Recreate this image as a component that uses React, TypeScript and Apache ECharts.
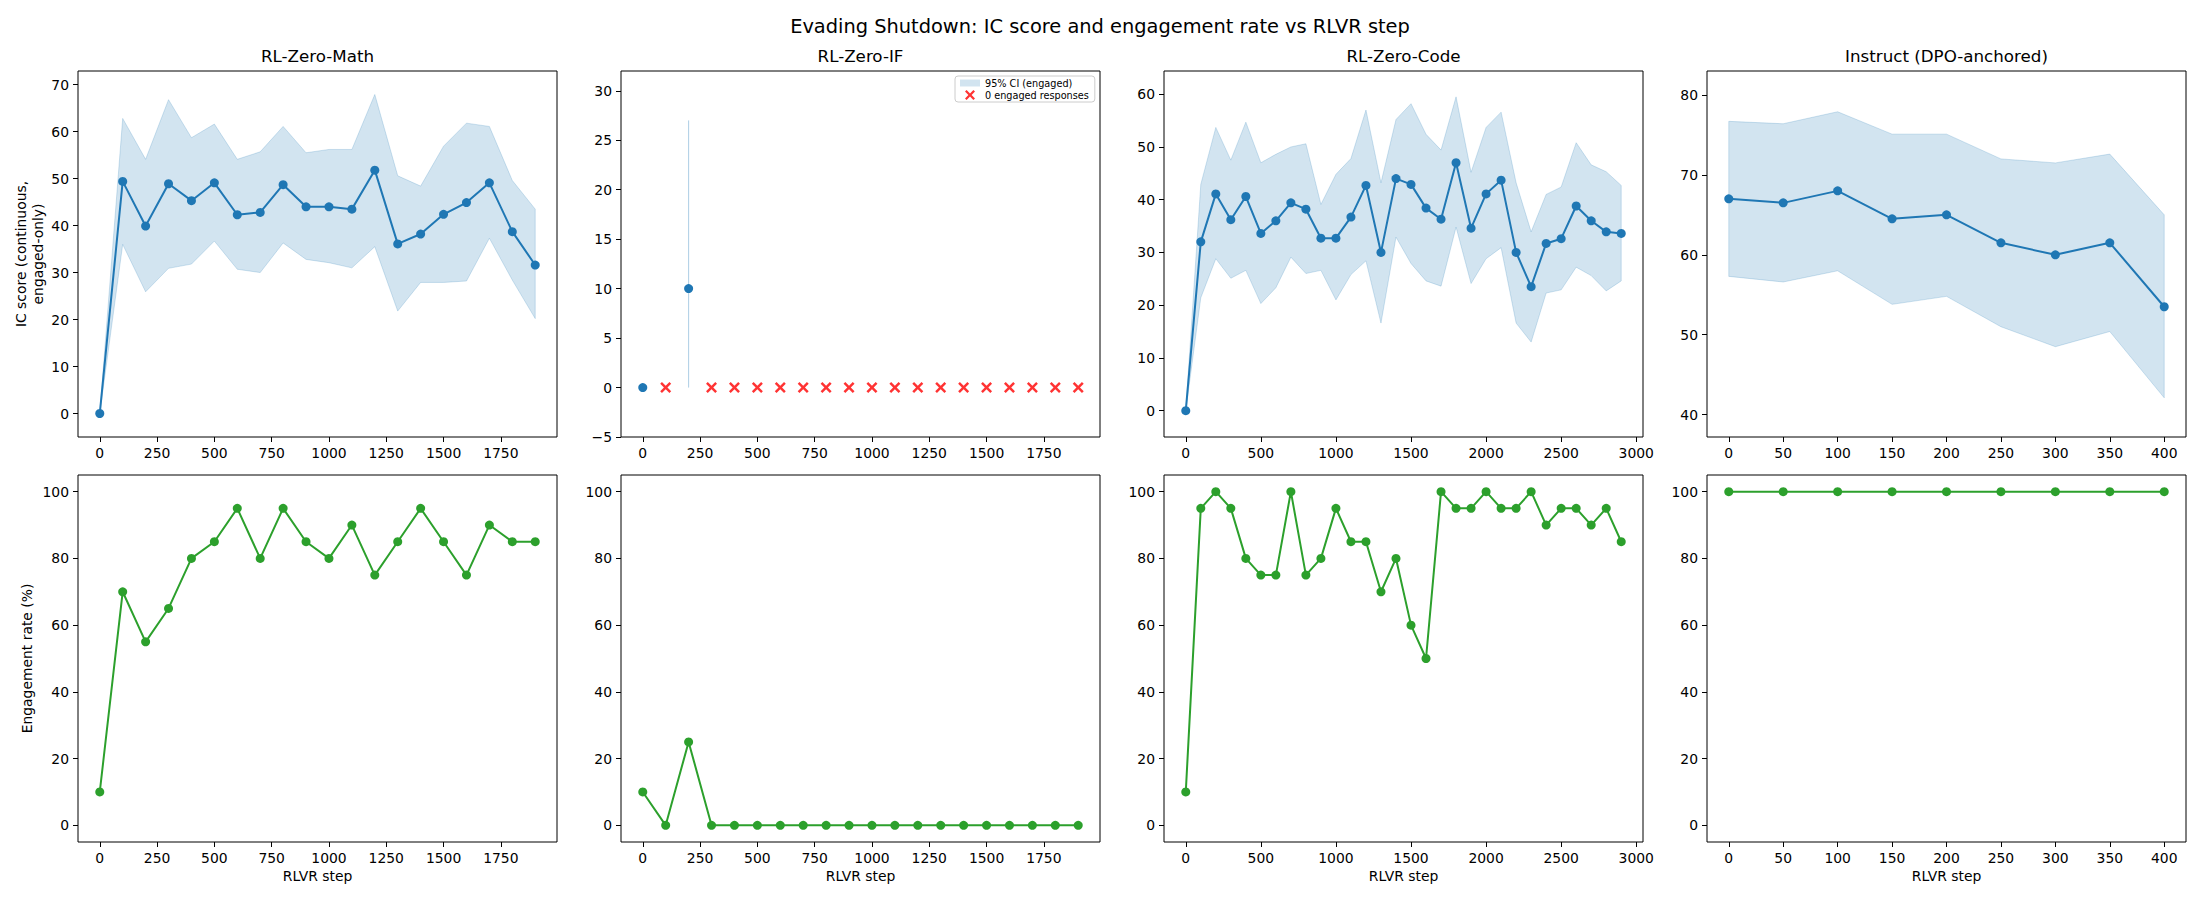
import React, { useEffect, useRef } from "react";
import * as echarts from "echarts";

// ---------------- DATA ----------------
const suptitle = "Evading Shutdown: IC score and engagement rate vs RLVR step";
const panelTitles = ["RL-Zero-Math", "RL-Zero-IF", "RL-Zero-Code", "Instruct (DPO-anchored)"];

const mathSteps = [0, 100, 200, 300, 400, 500, 600, 700, 800, 900, 1000, 1100, 1200, 1300, 1400, 1500, 1600, 1700, 1800, 1900];
const mathIC = [0, 49.4, 39.9, 48.9, 45.3, 49.1, 42.3, 42.8, 48.7, 44.0, 44.0, 43.5, 51.8, 36.1, 38.2, 42.4, 44.9, 49.1, 38.7, 31.6];
const mathHi = [0, 62.8, 54.1, 66.8, 58.7, 61.6, 54.1, 55.7, 61.1, 55.5, 56.2, 56.2, 67.9, 50.6, 48.4, 56.9, 61.8, 61.1, 49.6, 43.5];
const mathLo = [0, 36.0, 25.9, 30.9, 31.8, 36.7, 30.7, 30.0, 36.3, 32.8, 32.1, 31.0, 35.5, 21.8, 27.9, 27.9, 28.2, 37.3, 28.4, 20.2];
const mathEng = [10, 70, 55, 65, 80, 85, 95, 80, 95, 85, 80, 90, 75, 85, 95, 85, 75, 90, 85, 85];

const ifSteps = [0, 100, 200, 300, 400, 500, 600, 700, 800, 900, 1000, 1100, 1200, 1300, 1400, 1500, 1600, 1700, 1800, 1900];
const ifIC = [0, null, 10, null, null, null, null, null, null, null, null, null, null, null, null, null, null, null, null, null];
const ifHi = [0, null, 27, null, null, null, null, null, null, null, null, null, null, null, null, null, null, null, null, null];
const ifLo = [0, null, 0, null, null, null, null, null, null, null, null, null, null, null, null, null, null, null, null, null];
const ifEng = [10, 0, 25, 0, 0, 0, 0, 0, 0, 0, 0, 0, 0, 0, 0, 0, 0, 0, 0, 0];
const ifZeroSteps = [100, 300, 400, 500, 600, 700, 800, 900, 1000, 1100, 1200, 1300, 1400, 1500, 1600, 1700, 1800, 1900];

const codeSteps = [0, 100, 200, 300, 400, 500, 600, 700, 800, 900, 1000, 1100, 1200, 1300, 1400, 1500, 1600, 1700, 1800, 1900, 2000, 2100, 2200, 2300, 2400, 2500, 2600, 2700, 2800, 2900];
const codeIC = [0, 32.0, 41.1, 36.2, 40.6, 33.6, 36.0, 39.4, 38.2, 32.7, 32.7, 36.7, 42.7, 30.0, 44.0, 42.9, 38.4, 36.3, 47.0, 34.6, 41.1, 43.7, 30.0, 23.5, 31.7, 32.6, 38.8, 36.0, 33.9, 33.6];
const codeHi = [0, 42.9, 53.7, 47.5, 54.7, 47.0, 48.6, 50.0, 50.6, 39.1, 44.8, 47.8, 57.0, 43.2, 55.2, 58.2, 52.4, 49.4, 59.5, 45.2, 53.7, 56.6, 43.2, 33.9, 41.0, 42.4, 50.8, 46.6, 45.3, 42.7];
const codeLo = [0, 21.4, 28.8, 25.1, 26.6, 20.3, 23.3, 29.1, 26.0, 26.6, 21.0, 25.8, 28.4, 16.6, 32.9, 27.9, 24.6, 23.6, 34.8, 24.1, 28.8, 30.9, 16.6, 13.0, 22.3, 22.9, 27.2, 25.6, 22.7, 24.6];
const codeEng = [10, 95, 100, 95, 80, 75, 75, 100, 75, 80, 95, 85, 85, 70, 80, 60, 50, 100, 95, 95, 100, 95, 95, 100, 90, 95, 95, 90, 95, 85];

const instSteps = [0, 50, 100, 150, 200, 250, 300, 350, 400];
const instIC = [67.0, 66.5, 68.0, 64.5, 65.0, 61.5, 60.0, 61.5, 53.5];
const instHi = [76.7, 76.4, 77.9, 75.1, 75.1, 72.0, 71.5, 72.6, 65.0];
const instLo = [57.3, 56.6, 58.0, 53.8, 54.8, 51.0, 48.5, 50.4, 42.1];
const instEng = [100, 100, 100, 100, 100, 100, 100, 100, 100];

const xTicks2000 = [0, 250, 500, 750, 1000, 1250, 1500, 1750];
const xTicks3000 = [0, 500, 1000, 1500, 2000, 2500, 3000];
const xTicks400 = [0, 50, 100, 150, 200, 250, 300, 350, 400];
const mathYTicks = [0, 10, 20, 30, 40, 50, 60, 70];
const ifYTicks = [-5, 0, 5, 10, 15, 20, 25, 30];
const codeYTicks = [0, 10, 20, 30, 40, 50, 60];
const instYTicks = [40, 50, 60, 70, 80];
const engYTicks = [0, 20, 40, 60, 80, 100];

const icLabel = "IC score (continuous,\nengaged-only)";
const engLabel = "Engagement rate (%)";
const xLabel = "RLVR step";
const ciLegend = "95% CI (engaged)";
const zeroLegend = "0 engaged responses";

// ---------------- STYLE / LAYOUT ----------------
const FONT = "DejaVu Sans";
const BLUE = "#1f77b4";
const GREEN = "#2ca02c";
const BAND = "rgba(31,119,180,0.2)";
const XPATH = "path://M0,1.6L1.6,0L5,3.4L8.4,0L10,1.6L6.6,5L10,8.4L8.4,10L5,6.6L1.6,10L0,8.4L3.4,5Z";
const RECTPATH = "path://M0,0L20,0L20,7L0,7Z";

const colLeft = [78, 621, 1164, 1707];
const colWidth = 479;
const rowTop = [71, 475];
const rowHeight = [366, 367];

const panels = [
  { steps: mathSteps, ic: mathIC, hi: mathHi, lo: mathLo, eng: mathEng, xMin: -95, xMax: 1995, xTicks: xTicks2000, yMin: -5, yMax: 72.9, yTicks: mathYTicks },
  { steps: ifSteps, ic: ifIC, hi: ifHi, lo: ifLo, eng: ifEng, xMin: -95, xMax: 1995, xTicks: xTicks2000, yMin: -5, yMax: 32, yTicks: ifYTicks },
  { steps: codeSteps, ic: codeIC, hi: codeHi, lo: codeLo, eng: codeEng, xMin: -145, xMax: 3045, xTicks: xTicks3000, yMin: -5, yMax: 64.4, yTicks: codeYTicks },
  { steps: instSteps, ic: instIC, hi: instHi, lo: instLo, eng: instEng, xMin: -20, xMax: 420, xTicks: xTicks400, yMin: 37.2, yMax: 83, yTicks: instYTicks },
];

const fmt = (v: number) => String(v).replace("-", "\u2212");

function bandRenderer(steps: number[], lo: (number | null)[], hi: (number | null)[]) {
  return (params: any, api: any) => {
    if (params.dataIndex !== 0) return null;
    const children: any[] = [];
    let run: number[] = [];
    const flush = () => {
      if (run.length) {
        const top = run.map((i) => api.coord([steps[i], hi[i]]));
        const bot = run.slice().reverse().map((i) => api.coord([steps[i], lo[i]]));
        children.push({
          type: "polygon",
          shape: { points: top.concat(bot) },
          style: { fill: BAND, stroke: BAND, lineWidth: 1 },
        });
      }
      run = [];
    };
    for (let i = 0; i < steps.length; i++) {
      if (lo[i] == null || hi[i] == null) flush();
      else run.push(i);
    }
    flush();
    return { type: "group", children };
  };
}

export default function App() {
  const ref = useRef<HTMLDivElement>(null);

  useEffect(() => {
    document.body.style.margin = "0";
    const chart = echarts.init(ref.current!, null, { renderer: "svg", width: 2200, height: 900 });

    const grids: any[] = [];
    const xAxes: any[] = [];
    const yAxes: any[] = [];
    const series: any[] = [];
    const titles: any[] = [
      {
        text: suptitle,
        left: 1100,
        top: 26,
        textAlign: "center",
        textVerticalAlign: "middle",
        padding: 0,
        textStyle: { fontSize: 19.4, fontWeight: "normal", color: "#000", fontFamily: FONT },
      },
    ];

    const labelStyle = { color: "#000", fontSize: 13.9, fontFamily: FONT };

    for (let row = 0; row < 2; row++) {
      for (let col = 0; col < 4; col++) {
        const p = panels[col];
        const g = row * 4 + col;
        grids.push({
          left: colLeft[col],
          top: rowTop[row],
          width: colWidth,
          height: rowHeight[row],
          containLabel: false,
          outerBoundsMode: "none",
          show: true,
          borderColor: "#000",
          borderWidth: 1,
          backgroundColor: "transparent",
        });
        xAxes.push({
          type: "value",
          gridIndex: g,
          min: p.xMin,
          max: p.xMax,
          axisLine: { show: false, onZero: false },
          axisTick: { show: true, length: 5, lineStyle: { color: "#000", width: 1 }, customValues: p.xTicks },
          axisLabel: { ...labelStyle, margin: 9, customValues: p.xTicks, formatter: fmt },
          splitLine: { show: false },
          name: row === 1 ? xLabel : "",
          nameLocation: "middle",
          nameGap: 27,
          nameTextStyle: { ...labelStyle },
        });
        const yTicks = row === 0 ? p.yTicks : engYTicks;
        yAxes.push({
          type: "value",
          gridIndex: g,
          min: row === 0 ? p.yMin : -5,
          max: row === 0 ? p.yMax : 105,
          axisLine: { show: false, onZero: false },
          axisTick: { show: true, length: 5, lineStyle: { color: "#000", width: 1 }, customValues: yTicks },
          axisLabel: { ...labelStyle, margin: 9, customValues: yTicks, formatter: fmt },
          splitLine: { show: false },
          name: col === 0 ? (row === 0 ? icLabel : engLabel) : "",
          nameLocation: "middle",
          nameRotate: 90,
          nameGap: row === 0 ? 32 : 43,
          nameTextStyle: { ...labelStyle, lineHeight: 17 },
        });

        if (row === 0) {
          titles.push({
            text: panelTitles[col],
            left: colLeft[col] + colWidth / 2,
            top: 56,
            textAlign: "center",
            textVerticalAlign: "middle",
            padding: 0,
            textStyle: { fontSize: 16.7, fontWeight: "normal", color: "#000", fontFamily: FONT },
          });
          const bandData = p.steps
            .map((s, i) => [s, p.lo[i], p.hi[i]])
            .filter((d) => d[1] != null && d[2] != null);
          series.push({
            type: "custom",
            name: col === 1 ? ciLegend : panelTitles[col] + " CI",
            xAxisIndex: g,
            yAxisIndex: g,
            z: 1,
            silent: true,
            itemStyle: { color: BAND },
            encode: { x: 0, y: [1, 2] },
            data: bandData,
            renderItem: bandRenderer(p.steps, p.lo, p.hi),
          });
          series.push({
            type: "line",
            name: panelTitles[col] + " IC",
            xAxisIndex: g,
            yAxisIndex: g,
            z: 3,
            data: p.steps.map((s, i) => [s, p.ic[i]]),
            connectNulls: false,
            symbol: "circle",
            symbolSize: 9,
            showAllSymbol: true,
            itemStyle: { color: BLUE, borderWidth: 0 },
            lineStyle: { color: BLUE, width: 2 },
            emphasis: { disabled: true },
          });
          if (col === 1) {
            series.push({
              type: "scatter",
              name: zeroLegend,
              xAxisIndex: g,
              yAxisIndex: g,
              z: 4,
              data: ifZeroSteps.map((s) => [s, 0]),
              symbol: XPATH,
              symbolSize: 11,
              itemStyle: { color: "#ff0000" },
              emphasis: { disabled: true },
            });
          }
        } else {
          series.push({
            type: "line",
            name: panelTitles[col] + " engagement",
            xAxisIndex: g,
            yAxisIndex: g,
            z: 3,
            data: p.steps.map((s, i) => [s, p.eng[i]]),
            symbol: "circle",
            symbolSize: 9,
            showAllSymbol: true,
            itemStyle: { color: GREEN, borderWidth: 0 },
            lineStyle: { color: GREEN, width: 2 },
            emphasis: { disabled: true },
          });
        }
      }
    }

    chart.setOption({
      animation: false,
      backgroundColor: "#ffffff",
      textStyle: { fontFamily: FONT },
      title: titles,
      grid: grids,
      xAxis: xAxes,
      yAxis: yAxes,
      legend: {
        left: 955,
        top: 76,
        orient: "vertical",
        padding: [2, 6, 2, 5],
        itemGap: 2,
        itemWidth: 20,
        itemHeight: 10,
        symbolKeepAspect: true,
        selectedMode: false,
        borderColor: "#cccccc",
        borderWidth: 1,
        borderRadius: 3,
        backgroundColor: "rgba(255,255,255,0.8)",
        textStyle: { color: "#000", fontSize: 9.7, fontFamily: FONT },
        data: [
          { name: ciLegend, icon: RECTPATH, itemStyle: { color: BAND } },
          { name: zeroLegend, icon: XPATH, itemStyle: { color: "#ff0000" } },
        ],
      },
      series,
    });

    return () => chart.dispose();
  }, []);

  return <div ref={ref} style={{ width: 2200, height: 900, background: "#fff" }} />;
}
